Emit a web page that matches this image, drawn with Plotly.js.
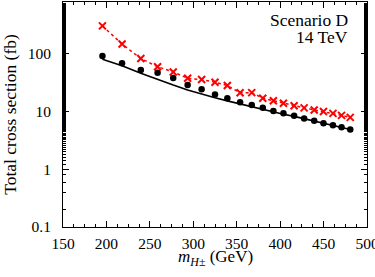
<!DOCTYPE html>
<html>
<head>
<meta charset="utf-8">
<script src="https://cdn.plot.ly/plotly-3.0.1.min.js"></script>
<style>html,body{margin:0;padding:0;background:#fff;}#chart{width:375px;height:277px;}</style>
</head>
<body>
<div id="chart"></div>
<script>
// Charged Higgs masses (GeV)
const masses = [195.4, 218, 239.6, 258.9, 276.9, 293.5, 309.6, 325, 339.2, 353.9, 367.3, 380, 392.2, 403.8, 416.1, 427.6, 439.2, 449.9, 460.8, 470.7, 480.7];
// Black dots (fb)
const blackDots = [90.6, 67.8, 52, 46.7, 37.8, 28.6, 24.2, 19.5, 16.9, 14.4, 12.9, 11.5, 10.2, 9.3, 8.4, 7.5, 6.86, 6.26, 5.78, 5.34, 4.86];
// Black solid curve (fb)
const blackLine = [79.5, 61.5, 45.5, 35.5, 28.5, 23.5, 19.9, 17.2, 15.2, 13.4, 12.0, 10.8, 9.8, 8.95, 8.2, 7.45, 6.8, 6.22, 5.75, 5.32, 4.86];
// Red crosses (fb)
const redCross = [301, 146, 82, 59.2, 48, 37.3, 35.6, 32, 28.1, 21, 21.1, 16.9, 15.3, 13.8, 12.5, 11.5, 10.6, 9.93, 9.25, 8.54, 7.88];
const xTicks = [150, 200, 250, 300, 350, 400, 450, 500];
const yTickVals = [0.1, 1, 10, 100];
const yTickText = ['0.1', '1', '10', '100'];

const serif = 'Liberation Serif, Times New Roman, serif';

const traces = [
  {x: masses, y: blackLine, mode: 'lines', line: {color: '#000', width: 1.6}, hoverinfo: 'skip'},
  {x: masses, y: blackDots, mode: 'markers', marker: {color: '#000', size: 6.5, symbol: 'circle'}},
  {x: masses, y: redCross, mode: 'lines+markers',
   line: {color: '#ff0000', width: 1.5, dash: 'dot'},
   marker: {color: '#ff0000', size: 7, symbol: 'x-thin-open', line: {color: '#ff0000', width: 2}}}
];

const layout = {
  width: 375, height: 277,
  margin: {l: 63, r: 8, t: 2, b: 50},
  paper_bgcolor: '#fff', plot_bgcolor: '#fff',
  showlegend: false,
  font: {family: serif, size: 15.5, color: '#000'},
  xaxis: {
    type: 'linear', range: [150, 500], tickvals: xTicks, ticktext: xTicks.map(String),
    ticks: 'inside', ticklen: 6, tickwidth: 1, tickcolor: '#000',
    showline: true, linecolor: '#000', linewidth: 1, mirror: 'allticks',
    showgrid: false, zeroline: false,
    minor: {dtick: 12.5, ticks: 'inside', ticklen: 3, tickcolor: '#000', showgrid: false},
    tickfont: {family: serif, size: 15.5},
    ticklabeloverflow: 'allow',
    ticklabelstandoff: 2
  },
  yaxis: {
    type: 'log', range: [-1, Math.log10(780)], tickvals: yTickVals, ticktext: yTickText,
    ticks: 'inside', ticklen: 6, tickwidth: 1, tickcolor: '#000',
    showline: true, linecolor: '#000', linewidth: 1, mirror: 'allticks',
    showgrid: false, zeroline: false,
    minor: {ticks: 'inside', ticklen: 3, tickcolor: '#000', showgrid: false},
    tickfont: {family: serif, size: 15.5},
    ticklabeloverflow: 'allow',
    ticklabelstandoff: 8,
    title: {text: 'Total cross section (fb)', font: {family: serif, size: 17.5}, standoff: 6}
  },
  annotations: [
    {xref: 'paper', yref: 'paper', x: 0.5, y: 0, yshift: -31, xanchor: 'center', yanchor: 'middle',
     text: '<i>m</i><sub><i>H</i>±</sub> (GeV)', showarrow: false, font: {family: serif, size: 17}},
    {xref: 'paper', yref: 'paper', x: 0.944, y: 1, yshift: -18, xanchor: 'right', yanchor: 'middle',
     text: 'Scenario D', showarrow: false, font: {family: serif, size: 17.5}},
    {xref: 'paper', yref: 'paper', x: 0.944, y: 1, yshift: -35, xanchor: 'right', yanchor: 'middle',
     text: '14 TeV', showarrow: false, font: {family: serif, size: 17.5}}
  ]
};

Plotly.newPlot('chart', traces, layout, {staticPlot: true, displayModeBar: false});
</script>
</body>
</html>
